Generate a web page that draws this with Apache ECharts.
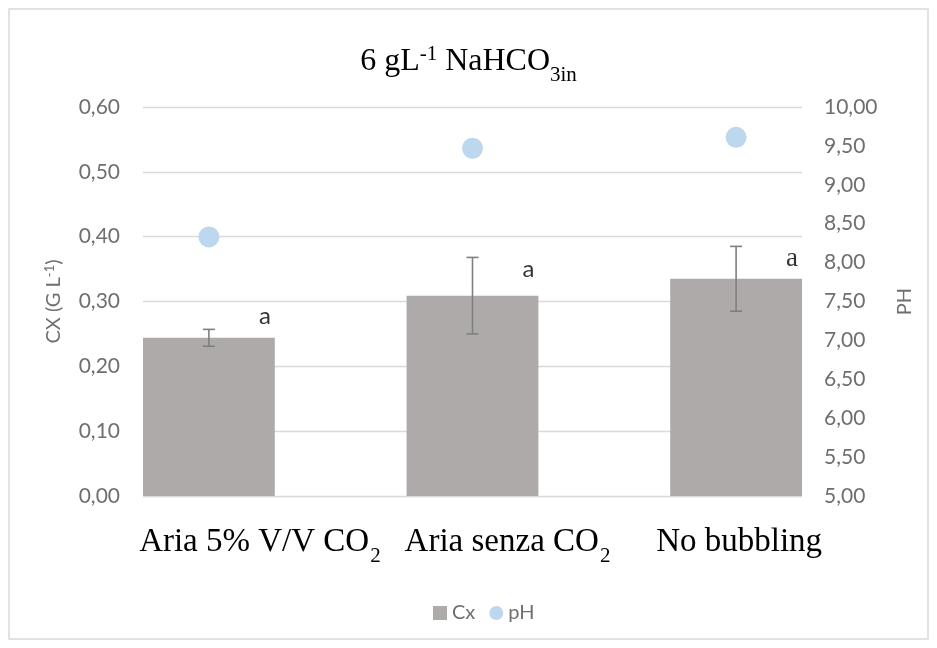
<!DOCTYPE html>
<html>
<head>
<meta charset="utf-8">
<title>6 gL-1 NaHCO3in</title>
<script src="https://cdn.jsdelivr.net/npm/echarts@6/dist/echarts.min.js"></script>
<style>
  html, body { margin: 0; padding: 0; background: #ffffff; }
  #chart { width: 937px; height: 648px; }
</style>
</head>
<body>
<div id="chart"></div>
<script>
// Treatments (gas supply) and measured values
const categories = ['Aria 5% V/V CO2', 'Aria senza CO2', 'No bubbling'];
const cxValues = [0.244, 0.309, 0.335];      // biomass concentration, g/L
const cxErrors = [0.013, 0.059, 0.050];      // standard deviation
const phValues = [8.33, 9.47, 9.61];         // final pH
const groupLetters = ['a', 'a', 'a'];        // statistical grouping
const letterAt = [0.277, 0.349, 0.366];      // height of each letter, g/L scale
const cxTicks = { min: 0, max: 0.6, interval: 0.1 };
const phTicks = { min: 5, max: 10, interval: 0.5 };

const chart = echarts.init(document.getElementById('chart'));

// Plot frame
const W = 937, H = 648;
const plotLeft = 143, plotRight = 802, plotTop = 107, plotBottom = 496;
const nCat = categories.length;
// bars take half a category slot and sit flush with the frame edges
const slot = (plotRight - plotLeft) / (nCat - 0.5);
const bandLeft = plotLeft - slot / 4;
const bandRight = plotRight + slot / 4;
// horizontal nudge of each category caption (px)
const captionShift = [51, 35, 3];

const sansFont = 'Lato, "Open Sans", sans-serif';
const serifFont = '"Liberation Serif", "Times New Roman", serif';
const labelGray = '#6f6f6f';
const comma = v => v.toFixed(2).replace('.', ',');

function catLabel(name, idx) {
  const lead = '{p' + idx + '|}';
  if (name.endsWith('CO2')) return lead + '{t|' + name.slice(0, -1) + '}{sub|2}';
  return lead + '{t|' + name + '}';
}

const catRich = {
  t: { fontFamily: serifFont, fontSize: 33, color: '#000', lineHeight: 38, verticalAlign: 'bottom' },
  sub: { fontFamily: serifFont, fontSize: 21, color: '#000', lineHeight: 38, verticalAlign: 'bottom', padding: [0, 0, -8, 1] }
};
captionShift.forEach((s, i) => {
  catRich['p' + i] = { width: 2 * s, lineHeight: 38 };
});

const option = {
  animation: false,
  backgroundColor: '#ffffff',
  title: {
    text: '{t|6 gL}{sup|-1}{t| NaHCO}{sub|3in}',
    left: 'center',
    top: 33,
    textStyle: {
      rich: {
        t: { fontFamily: serifFont, fontSize: 32, fontWeight: 'normal', color: '#000', lineHeight: 40, verticalAlign: 'bottom' },
        sup: { fontFamily: serifFont, fontSize: 21, fontWeight: 'normal', color: '#000', lineHeight: 40, verticalAlign: 'bottom', padding: [0, 0, 13, 0] },
        sub: { fontFamily: serifFont, fontSize: 21, fontWeight: 'normal', color: '#000', lineHeight: 40, verticalAlign: 'bottom', padding: [0, 0, -8, 0] }
      }
    }
  },
  legend: {
    bottom: 20,
    left: 428,
    itemWidth: 14,
    itemHeight: 14,
    itemGap: 14,
    textStyle: { fontFamily: sansFont, fontSize: 20, color: labelGray },
    data: [
      { name: 'Cx', icon: 'rect' },
      { name: 'pH', icon: 'circle' }
    ]
  },
  graphic: [{
    type: 'rect',
    shape: { x: 9, y: 9, width: 919, height: 630 },
    style: { fill: 'none', stroke: '#d9d9d9', lineWidth: 1.5 },
    silent: true,
    z: -10
  }],
  grid: [
    { left: plotLeft, right: W - plotRight, top: plotTop, height: plotBottom - plotTop },
    { left: bandLeft, right: W - bandRight, top: plotTop, height: plotBottom - plotTop }
  ],
  xAxis: [
    { gridIndex: 0, type: 'category', data: categories, show: false },
    {
      gridIndex: 1, type: 'category', data: categories,
      axisLine: { show: false }, axisTick: { show: false },
      axisLabel: { interval: 0, hideOverlap: false, margin: 25, formatter: catLabel, rich: catRich }
    }
  ],
  yAxis: [
    {
      gridIndex: 0, type: 'value', position: 'left',
      min: cxTicks.min, max: cxTicks.max, interval: cxTicks.interval,
      axisLine: { show: false }, axisTick: { show: false },
      splitLine: { lineStyle: { color: '#d9d9d9', width: 1.3 } },
      axisLabel: { formatter: comma, margin: 23, fontFamily: sansFont, fontSize: 21, color: labelGray },
      name: '{t|CX (G L}{sup|-1}{t|)}',
      nameLocation: 'middle', nameRotate: 90, nameGap: 76,
      nameTextStyle: {
        rich: {
          t: { fontFamily: sansFont, fontSize: 20, color: labelGray, lineHeight: 26 },
          sup: { fontFamily: sansFont, fontSize: 13, color: labelGray, lineHeight: 26, padding: [0, 0, 9, 0] }
        }
      }
    },
    {
      gridIndex: 0, type: 'value', position: 'right',
      min: phTicks.min, max: phTicks.max, interval: phTicks.interval,
      axisLine: { show: false }, axisTick: { show: false }, splitLine: { show: false },
      axisLabel: { formatter: comma, margin: 22, fontFamily: sansFont, fontSize: 21, color: labelGray },
      name: 'PH', nameLocation: 'middle', nameRotate: 90, nameGap: 93,
      nameTextStyle: { fontFamily: sansFont, fontSize: 20, color: labelGray }
    },
    { gridIndex: 1, type: 'value', min: cxTicks.min, max: cxTicks.max, show: false },
    { gridIndex: 1, type: 'value', min: phTicks.min, max: phTicks.max, show: false }
  ],
  series: [
    {
      name: 'Cx', type: 'bar', xAxisIndex: 1, yAxisIndex: 2,
      barWidth: '50%', data: cxValues,
      itemStyle: { color: '#aeaaaa' }, z: 2
    },
    {
      name: 'Cx error', type: 'custom', xAxisIndex: 1, yAxisIndex: 2, z: 3,
      data: cxValues.map((v, i) => [i, v - cxErrors[i], v + cxErrors[i]]),
      renderItem: function (params, api) {
        const lo = api.coord([api.value(0), api.value(1)]);
        const hi = api.coord([api.value(0), api.value(2)]);
        const cap = 6;
        const st = { stroke: '#7f7f7f', lineWidth: 1.6 };
        return {
          type: 'group',
          children: [
            { type: 'line', shape: { x1: lo[0], y1: lo[1], x2: hi[0], y2: hi[1] }, style: st },
            { type: 'line', shape: { x1: lo[0] - cap, y1: lo[1], x2: lo[0] + cap, y2: lo[1] }, style: st },
            { type: 'line', shape: { x1: hi[0] - cap, y1: hi[1], x2: hi[0] + cap, y2: hi[1] }, style: st }
          ]
        };
      }
    },
    {
      name: 'pH', type: 'scatter', xAxisIndex: 1, yAxisIndex: 3,
      symbol: 'circle', symbolSize: 21, data: phValues,
      itemStyle: { color: '#bdd7ee', opacity: 1 }, z: 4
    },
    {
      name: 'letters', type: 'scatter', xAxisIndex: 1, yAxisIndex: 2,
      symbolSize: 0, silent: true, z: 5,
      data: letterAt.map((v, i) => ({ value: [i, v], name: groupLetters[i] })),
      label: {
        show: true, position: 'inside', offset: [56, 0],
        formatter: p => (p.dataIndex === 2 ? '{s|' : '{n|') + p.name + '}',
        rich: {
          n: { fontFamily: sansFont, fontSize: 24, color: '#000' },
          s: { fontFamily: serifFont, fontSize: 27, color: '#000' }
        }
      }
    }
  ]
};

chart.setOption(option);
</script>
</body>
</html>
